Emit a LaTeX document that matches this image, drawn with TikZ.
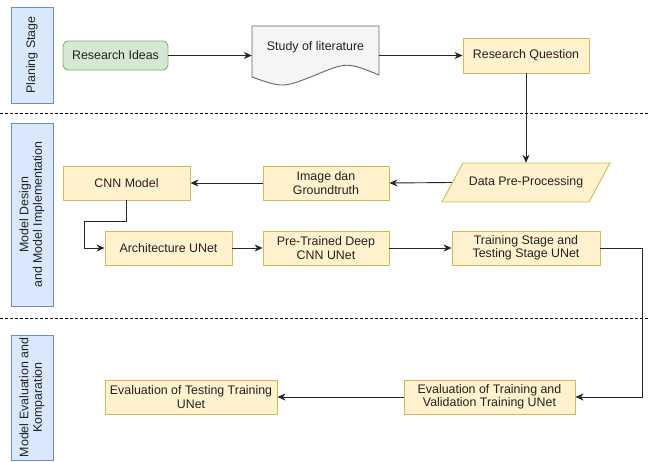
\documentclass[tikz,border=0pt]{standalone}
\usepackage{fontspec}
\setmainfont{Liberation Sans}
\usetikzlibrary{arrows.meta,calc}
\definecolor{yfill}{HTML}{FFF2CC}
\definecolor{ydraw}{HTML}{D6B656}
\definecolor{gfill}{HTML}{D5E8D4}
\definecolor{gdraw}{HTML}{82B366}
\definecolor{bfill}{HTML}{DAE8FC}
\definecolor{bdraw}{HTML}{6C8EBF}
\definecolor{sfill}{HTML}{F5F5F5}
\definecolor{sdraw}{HTML}{666666}
\definecolor{txt}{HTML}{222222}
\definecolor{ln}{HTML}{262626}
\begin{document}
\begin{tikzpicture}[x=1pt,y=-1pt,
  every node/.style={font=\fontsize{12.4}{13.5}\selectfont, text=txt, align=center, inner sep=1pt},
  ybox/.style={draw=ydraw, fill=yfill, line width=0.9pt, minimum height=34pt},
  gbox/.style={draw=gdraw, fill=gfill, line width=0.9pt, rounded corners=5pt, minimum height=29pt, minimum width=105pt},
  lane/.style={draw=bdraw, fill=bfill, line width=0.9pt, minimum width=42pt},
  lanetext/.style={rotate=90, font=\fontsize{12.4}{13.5}\selectfont},
  conn/.style={draw=ln, line width=0.9pt, -{Stealth[length=8pt,width=7pt,inset=2.5pt]}},
  sep/.style={draw=black, line width=0.7pt, dash pattern=on 3pt off 2pt}
]
\useasboundingbox (0,0) rectangle (648,461);

% separators
\draw[sep] (0,113) -- (648,113);
\draw[sep] (0,318) -- (648,318);

% lanes
\node[lane, minimum height=96pt] (lane1) at (32,55) {};
\node[lanetext] at (lane1.center) {Planing Stage};
\node[lane, minimum height=183pt] (lane2) at (32,214.5) {};
\node[lanetext] at (lane2.center) {Model Design\\and Model Implementation};
\node[lane, minimum height=125pt] (lane3) at (32,397.5) {};
\node[lanetext] at (lane3.center) {Model Evaluation and\\Komparation};

% planning stage
\node[gbox] (ideas) at (115.5,55.5) {Research Ideas};
\draw[draw=sdraw, fill=sfill, line width=0.9pt]
  (252,26) -- (379,26) -- (379,75)
  .. controls (347,62) .. (315.5,75)
  .. controls (283,88) .. (252,77) -- cycle;
\node[minimum width=127pt, minimum height=58pt, label={[yshift=8pt, text=txt]center:Study of literature}] (study) at (315.5,55.5) {};
\node[ybox, minimum width=126pt, minimum height=35pt] (rq) at (526,55.5) {Research Question};

% model design
\draw[draw=ydraw, fill=yfill, line width=0.9pt]
  (442,202) -- (463,163) -- (610,163) -- (589,202) -- cycle;
\node[minimum width=148pt, minimum height=39pt] (data) at (526,182.5) {Data Pre-Processing};
\node[ybox, minimum width=126pt] (img) at (326,183) {Image dan\\Groundtruth};
\node[ybox, minimum width=127pt] (cnn) at (126.5,183) {CNN Model};
\node[ybox, minimum width=127pt] (arch) at (168.5,248) {Architecture UNet};
\node[ybox, minimum width=126pt] (pre) at (326,248) {Pre-Trained Deep\\CNN UNet};
\node[ybox, minimum width=148pt] (train) at (526,248) {Training Stage and\\Testing Stage UNet};

% evaluation
\node[ybox, minimum width=171pt] (evtr) at (489.5,397) {Evaluation of Training and\\Validation Training UNet};
\node[ybox, minimum width=172pt] (evte) at (191,397) {Evaluation of Testing Training\\UNet};

% connectors
\draw[conn] (ideas.east) -- (ideas.east -| study.west);
\draw[conn] (study.east) -- (rq.west);
\draw[conn] (rq.south) -- (data.north);
\draw[conn] (data.west) -- (img.east);
\draw[conn] (img.west) -- (cnn.east);
\draw[conn] (cnn.south) |- (84,221) |- (arch.west);
\draw[conn] (arch.east) -- (pre.west);
\draw[conn] (pre.east) -- (train.west);
\draw[conn] (train.east) -| (642,397) -- (evtr.east);
\draw[conn] (evtr.west) -- (evte.east);
\end{tikzpicture}
\end{document}
